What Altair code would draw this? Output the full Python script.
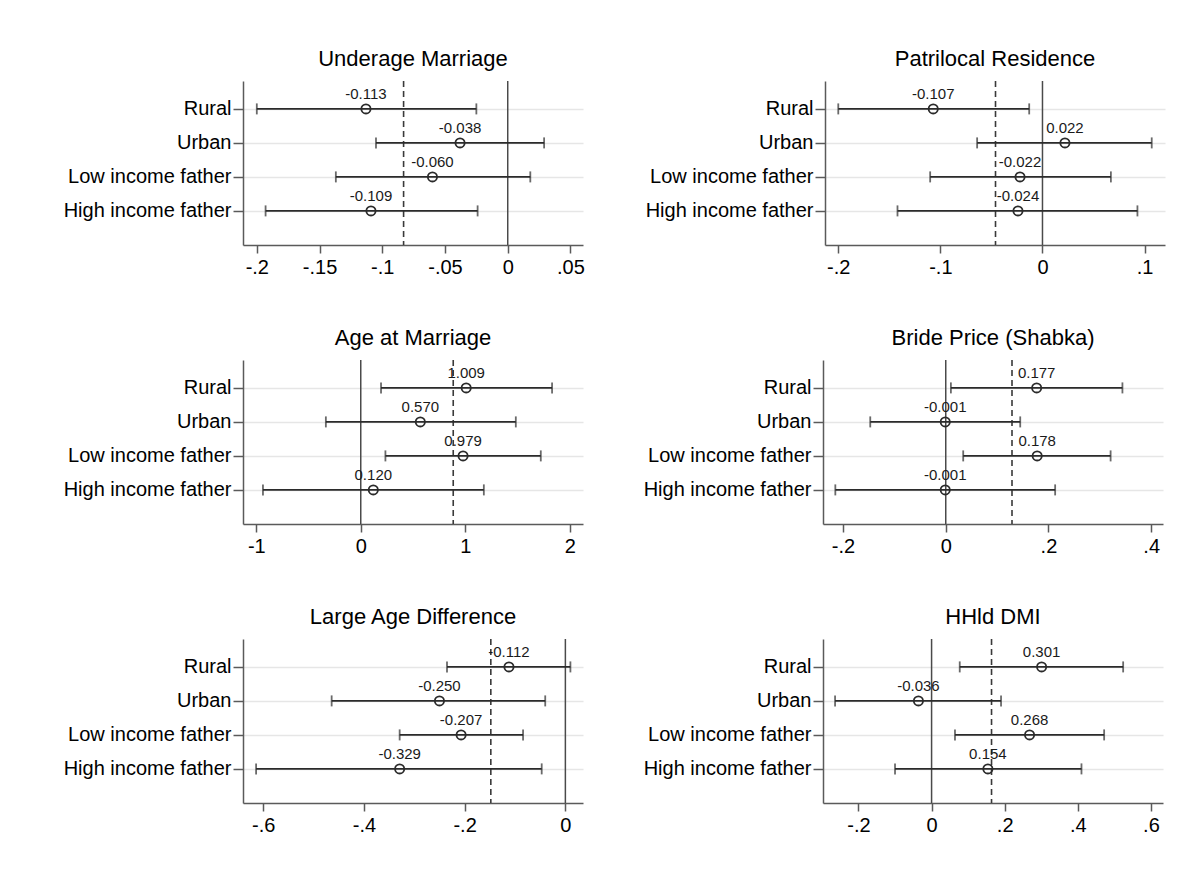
import altair as alt
import pandas as pd

# Subgroups shown on every panel, top to bottom
groups = ["Rural", "Urban", "Low income father", "High income father"]

titles = ["Underage Marriage", "Patrilocal Residence", "Age at Marriage",
          "Bride Price (Shabka)", "Large Age Difference", "HHld DMI"]

# Point estimates, 95% CI bounds and the pooled estimate (dashed line)
est_underage = [-0.113, -0.038, -0.060, -0.109]
lo_underage = [-0.200, -0.105, -0.137, -0.193]
hi_underage = [-0.025, 0.029, 0.018, -0.024]
pooled_underage = -0.083

est_patrilocal = [-0.107, 0.022, -0.022, -0.024]
lo_patrilocal = [-0.200, -0.064, -0.110, -0.142]
hi_patrilocal = [-0.013, 0.107, 0.067, 0.093]
pooled_patrilocal = -0.046

est_agemarriage = [1.009, 0.570, 0.979, 0.120]
lo_agemarriage = [0.194, -0.334, 0.236, -0.936]
hi_agemarriage = [1.831, 1.484, 1.723, 1.178]
pooled_agemarriage = 0.885

est_brideprice = [0.177, -0.001, 0.178, -0.001]
lo_brideprice = [0.010, -0.147, 0.034, -0.215]
hi_brideprice = [0.344, 0.145, 0.321, 0.213]
pooled_brideprice = 0.129

est_agediff = [-0.112, -0.250, -0.207, -0.329]
lo_agediff = [-0.235, -0.464, -0.329, -0.614]
hi_agediff = [0.010, -0.040, -0.084, -0.047]
pooled_agediff = -0.148

est_dmi = [0.301, -0.036, 0.268, 0.154]
lo_dmi = [0.077, -0.264, 0.064, -0.100]
hi_dmi = [0.524, 0.190, 0.472, 0.410]
pooled_dmi = 0.164

# x-axis ranges and tick marks per panel
x_domains = [[-0.211, 0.060], [-0.213, 0.120], [-1.127, 2.127],
             [-0.239, 0.423], [-0.640, 0.035], [-0.297, 0.633]]
x_ticks = [[-0.2, -0.15, -0.1, -0.05, 0, 0.05], [-0.2, -0.1, 0, 0.1],
           [-1, 0, 1, 2], [-0.2, 0, 0.2, 0.4],
           [-0.6, -0.4, -0.2, 0], [-0.2, 0, 0.2, 0.4, 0.6]]

panels_data = [
    (est_underage, lo_underage, hi_underage, pooled_underage),
    (est_patrilocal, lo_patrilocal, hi_patrilocal, pooled_patrilocal),
    (est_agemarriage, lo_agemarriage, hi_agemarriage, pooled_agemarriage),
    (est_brideprice, lo_brideprice, hi_brideprice, pooled_brideprice),
    (est_agediff, lo_agediff, hi_agediff, pooled_agediff),
    (est_dmi, lo_dmi, hi_dmi, pooled_dmi),
]

INK = "#2b2b2b"
AXIS = "#5a5a5a"
FONT = "Liberation Sans"

# Stata-style tick labels: drop the leading zero (".05", "-.2")
tick_expr = ("datum.value == 0 ? '0' : (datum.value < 0 ? '-' : '') + "
             "(abs(datum.value) < 1 ? slice(format(abs(datum.value), '~g'), 1) "
             ": format(abs(datum.value), '~g'))")


def panel(title, est, lo, hi, pooled, domain, ticks):
    df = pd.DataFrame({"group": groups, "est": est, "lo": lo, "hi": hi})
    refs = pd.DataFrame({"zero": [0.0], "pooled": [pooled]})
    xs = alt.Scale(domain=domain, nice=False, zero=False)
    xaxis = alt.Axis(values=ticks, title=None, labelExpr=tick_expr, grid=False,
                     tickSize=8, labelPadding=4, labelFontSize=20,
                     minExtent=34, maxExtent=34)
    ys = alt.Y("group:N", sort=groups,
               scale=alt.Scale(type="point", padding=0.912, align=0.45),
               axis=alt.Axis(title=None, grid=True, gridColor="#e6e6e6",
                             gridWidth=1.6, tickSize=10, labelPadding=2,
                             labelFontSize=20, labelLimit=300,
                             minExtent=181, maxExtent=181))

    zero = alt.Chart(refs).mark_rule(color="#4a4a4a", strokeWidth=1.5).encode(
        x=alt.X("zero:Q", scale=xs, axis=xaxis))
    dashed = alt.Chart(refs).mark_rule(color="#3a3a3a", strokeWidth=1.6,
                                       strokeDash=[6, 4]).encode(
        x=alt.X("pooled:Q", scale=xs, title=None))
    base = alt.Chart(df).transform_calculate(
        label="replace(format(datum.est, '.3f'), '\u2212', '-')")
    bars = base.mark_rule(color=INK, strokeWidth=1.8).encode(
        x=alt.X("lo:Q", scale=xs, title=None), x2="hi:Q", y=ys)
    cap_lo = base.mark_tick(color=INK, thickness=1.8, size=11).encode(
        x=alt.X("lo:Q", scale=xs, title=None), y=ys)
    cap_hi = base.mark_tick(color=INK, thickness=1.8, size=11).encode(
        x=alt.X("hi:Q", scale=xs, title=None), y=ys)
    pts = base.mark_point(shape="circle", filled=False, size=85,
                          strokeWidth=1.8, color=INK, opacity=1).encode(
        x=alt.X("est:Q", scale=xs, title=None), y=ys)
    labels = base.mark_text(dy=-10, fontSize=15, color="#1a1a1a",
                            baseline="alphabetic").encode(
        x=alt.X("est:Q", scale=xs, title=None), y=ys,
        text="label:N")

    return alt.layer(zero, dashed, bars, cap_lo, cap_hi, pts, labels).properties(
        width=340, height=164,
        title=alt.TitleParams(title, fontSize=22, fontWeight="normal",
                              anchor="middle", frame="group", offset=9,
                              color="black", font=FONT))


charts = [panel(titles[i], *panels_data[i], x_domains[i], x_ticks[i])
          for i in range(6)]

rows = [alt.hconcat(charts[2 * r], charts[2 * r + 1], spacing=59)
        for r in range(3)]

chart = alt.vconcat(*rows, spacing=48).properties(
    padding={"left": 62, "top": 48, "right": 10, "bottom": 5},
    background="white",
).configure(font=FONT).configure_view(stroke=None).configure_axis(
    domainColor=AXIS, domainWidth=1.5, tickColor=AXIS, tickWidth=1.5,
    labelColor="black", labelFont=FONT,
)

chart.save("out.html", embed_options={"renderer": "svg", "actions": False})
